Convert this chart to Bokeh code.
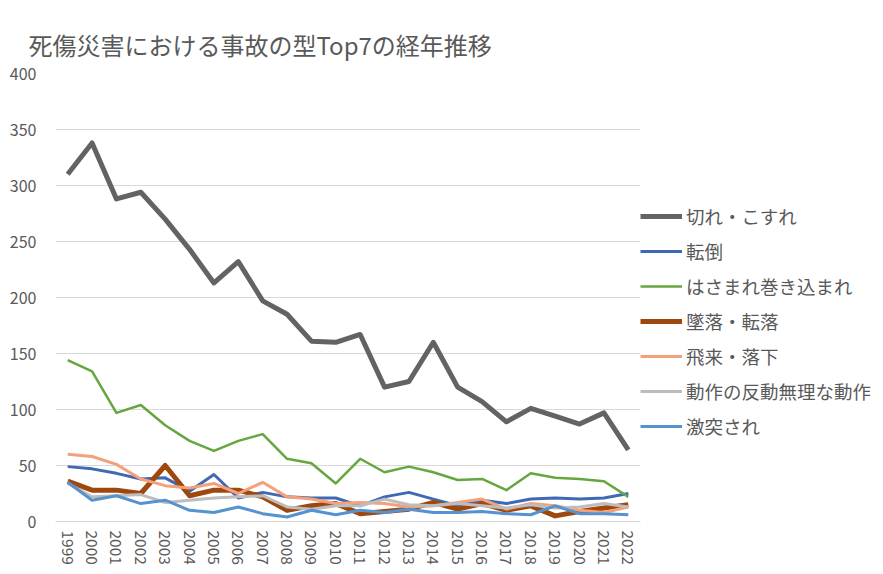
from bokeh.plotting import figure
from bokeh.models import FactorRange, Range1d, FixedTicker, Legend, LegendItem
from bokeh.embed import file_html
from bokeh.resources import INLINE

years = ["1999", "2000", "2001", "2002", "2003", "2004", "2005", "2006",
         "2007", "2008", "2009", "2010", "2011", "2012", "2013", "2014",
         "2015", "2016", "2017", "2018", "2019", "2020", "2021", "2022"]

kire = [310, 338, 288, 294, 270, 243, 213, 232, 197, 185, 161, 160,
        167, 120, 125, 160, 120, 107, 89, 101, 94, 87, 97, 64]
tentou = [49, 47, 43, 38, 39, 27, 42, 21, 26, 22, 21, 21,
          14, 22, 26, 20, 14, 19, 16, 20, 21, 20, 21, 25]
hasamare = [144, 134, 97, 104, 86, 72, 63, 72, 78, 56, 52, 34,
            56, 44, 49, 44, 37, 38, 28, 43, 39, 38, 36, 22]
tsuiraku = [36, 28, 28, 25, 50, 23, 28, 28, 22, 10, 14, 16,
            7, 9, 11, 17, 11, 16, 10, 14, 5, 9, 12, 15]
hirai = [60, 58, 51, 38, 32, 30, 34, 25, 35, 22, 20, 16,
         17, 16, 13, 14, 17, 20, 11, 16, 14, 10, 8, 13]
dousa = [34, 22, 23, 24, 17, 19, 21, 22, 23, 13, 11, 14,
         14, 20, 15, 14, 16, 14, 12, 15, 12, 13, 16, 13]
gekitotsu = [35, 19, 23, 16, 19, 10, 8, 13, 7, 4, 10, 6,
             10, 8, 11, 8, 8, 9, 7, 6, 14, 7, 7, 6]

names = ["切れ・こすれ", "転倒", "はさまれ巻き込まれ", "墜落・転落",
         "飛来・落下", "動作の反動無理な動作", "激突され"]
series = [kire, tentou, hasamare, tsuiraku, hirai, dousa, gekitotsu]
colors = ["#636363", "#3f69b5", "#66a63f", "#9e480e", "#f4a07a", "#bdbdbd", "#5592cf"]
widths = [5, 3, 2.5, 5, 3, 3, 3]

y_ticks = [0, 50, 100, 150, 200, 250, 300, 350, 400]

FONT = "Noto Sans CJK JP"
TXT = "#595959"

p = figure(frame_width=585, frame_height=448, x_range=FactorRange(factors=years),
           y_range=Range1d(0, 400), output_backend="svg", toolbar_location=None,
           min_border_left=55, min_border_right=235, min_border_top=73,
           min_border_bottom=49)

p.title.text = "死傷災害における事故の型Top7の経年推移"
p.title.text_font = FONT
p.title.text_font_size = "24px"
p.title.text_font_style = "normal"
p.title.text_color = TXT
p.title.align = "left"
p.title.offset = -27
p.title.standoff = 23

p.outline_line_color = None
p.xgrid.grid_line_color = None
p.ygrid.grid_line_color = "#d9d9d9"
p.ygrid.grid_line_width = 1
p.yaxis.ticker = FixedTicker(ticks=y_ticks)
p.yaxis.axis_line_color = None
p.yaxis.major_tick_line_color = None
p.yaxis.minor_tick_line_color = None
p.yaxis.major_label_standoff = 13
p.yaxis.major_label_text_font = FONT
p.yaxis.major_label_text_font_size = "16px"
p.yaxis.major_label_text_color = TXT

p.xaxis.axis_line_color = "#d9d9d9"
p.xaxis.major_tick_line_color = None
p.xaxis.minor_tick_line_color = None
p.xaxis.major_label_orientation = "vertical"
p.xaxis.major_label_standoff = 3
p.xaxis.major_label_text_font = FONT
p.xaxis.major_label_text_font_size = "15.5px"
p.xaxis.major_label_text_color = TXT

items = []
for name, vals, c, w in zip(names, series, colors, widths):
    r = p.line(x=years, y=vals, line_color=c, line_width=w, line_join="round")
    items.append(LegendItem(label=name, renderers=[r]))

legend = Legend(items=items, location=(0, 82), glyph_width=42, glyph_height=20,
                label_height=20, spacing=9, padding=0, margin=0, label_standoff=4,
                border_line_color=None, background_fill_alpha=0,
                label_text_font=FONT, label_text_font_size="18.5px",
                label_text_color=TXT)
p.add_layout(legend, "right")

open("out.html", "w").write(file_html(p, INLINE))
